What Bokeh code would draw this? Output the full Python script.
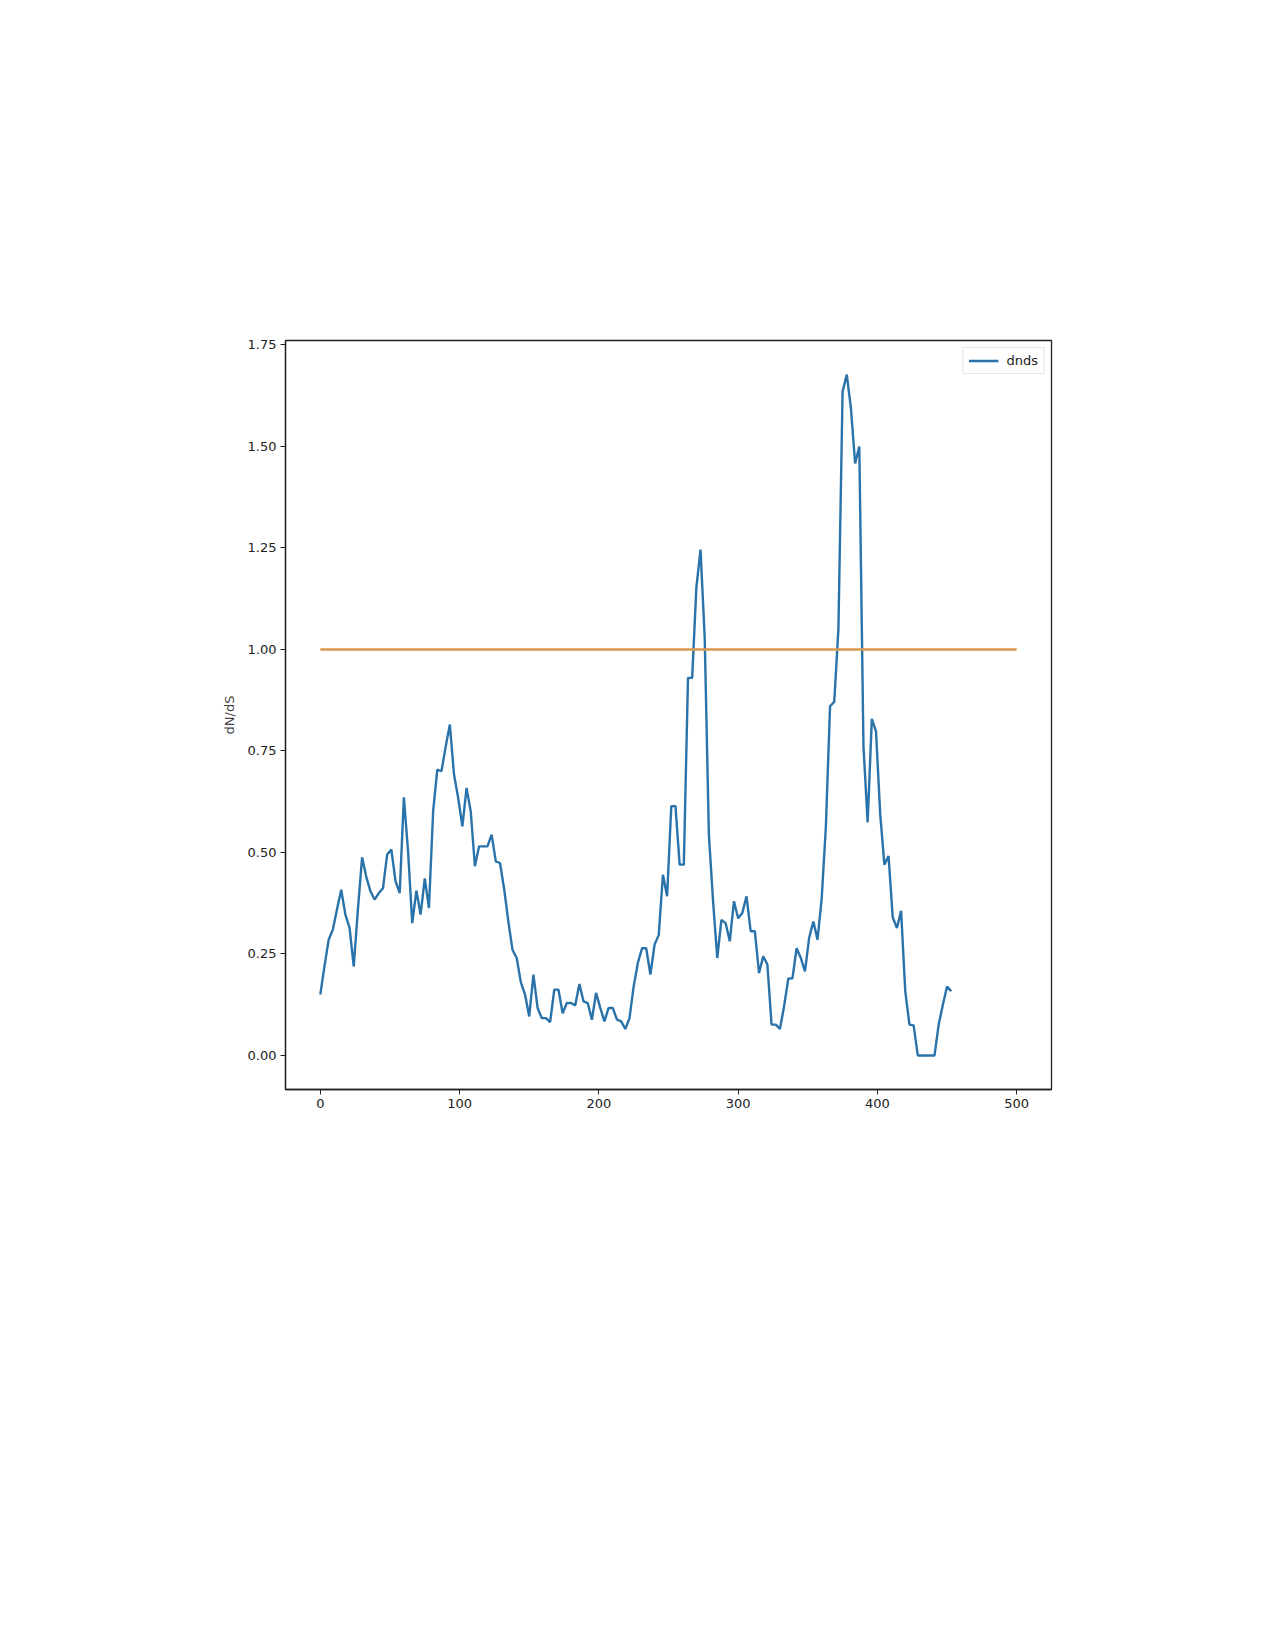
from bokeh.plotting import figure
from bokeh.models import Range1d, FixedTicker, NumeralTickFormatter, Legend, LegendItem
from bokeh.embed import file_html
from bokeh.resources import INLINE

# position along the sequence (step 3) and dN/dS values
positions = list(range(0, 454, 3))
dnds = [
    0.15, 0.22, 0.285, 0.31, 0.36, 0.408, 0.347, 0.314, 0.219, 0.36,
    0.488, 0.44, 0.404, 0.384, 0.40, 0.412, 0.495, 0.507, 0.429, 0.40,
    0.636, 0.503, 0.326, 0.406, 0.347, 0.436, 0.363, 0.601, 0.704, 0.70,
    0.76, 0.815, 0.692, 0.634, 0.564, 0.659, 0.601, 0.466, 0.515, 0.515,
    0.515, 0.544, 0.478, 0.474, 0.41, 0.33, 0.26, 0.24, 0.18, 0.15,
    0.096, 0.199, 0.117, 0.092, 0.092, 0.082, 0.162, 0.162, 0.104, 0.129,
    0.129, 0.123, 0.176, 0.133, 0.129, 0.088, 0.154, 0.117, 0.084, 0.117,
    0.117, 0.088, 0.084, 0.065, 0.092, 0.17, 0.228, 0.264, 0.264, 0.199,
    0.273, 0.297, 0.445, 0.392, 0.614, 0.614, 0.47, 0.47, 0.93, 0.93,
    1.152, 1.246, 1.029, 0.544, 0.38, 0.24, 0.334, 0.326, 0.281, 0.38,
    0.338, 0.351, 0.392, 0.306, 0.306, 0.203, 0.244, 0.224, 0.076, 0.076,
    0.065, 0.121, 0.189, 0.19, 0.264, 0.24, 0.207, 0.29, 0.33, 0.285,
    0.387, 0.564, 0.86, 0.871, 1.05, 1.635, 1.677, 1.594, 1.458, 1.5,
    0.76, 0.574, 0.829, 0.798, 0.595, 0.47, 0.491, 0.34, 0.314, 0.356,
    0.158, 0.076, 0.074, 0.0, 0.0, 0.0, 0.0, 0.0, 0.076, 0.125,
    0.17, 0.158,
]
ref_x = [0, 500]
ref_y = [1.0, 1.0]
x_ticks = [0, 100, 200, 300, 400, 500]
y_ticks = [0.0, 0.25, 0.5, 0.75, 1.0, 1.25, 1.5, 1.75]

FONT = "DejaVu Sans"

p = figure(
    frame_width=766, frame_height=749,
    min_border_left=285, min_border_top=340,
    min_border_right=208, min_border_bottom=545,
    x_range=Range1d(-25, 525), y_range=Range1d(-0.0839, 1.761),
    output_backend="svg", toolbar_location=None,
    background_fill_color="white", border_fill_color="white",
)
p.grid.visible = False
p.outline_line_color = "#222222"
p.outline_line_width = 1.3

for ax in (p.xaxis[0], p.yaxis[0]):
    ax.major_label_text_font = FONT
    ax.major_label_text_font_size = "13px"
    ax.major_label_text_color = "#222222"
    ax.axis_line_color = "#222222"
    ax.axis_line_width = 1.3
    ax.major_tick_line_color = "#222222"
    ax.major_tick_in = 0
    ax.major_tick_out = 5
    ax.minor_tick_line_color = None

p.xaxis[0].ticker = FixedTicker(ticks=x_ticks)
p.yaxis[0].ticker = FixedTicker(ticks=y_ticks)
p.yaxis[0].formatter = NumeralTickFormatter(format="0.00")
p.yaxis[0].axis_label = "dN/dS"
p.yaxis[0].axis_label_text_font = FONT
p.yaxis[0].axis_label_text_font_size = "13px"
p.yaxis[0].axis_label_text_font_style = "normal"
p.yaxis[0].axis_label_standoff = 8
p.xaxis[0].major_label_standoff = 4
p.yaxis[0].major_label_standoff = 4

blue = p.line(positions, dnds, line_color="#2a73aa", line_width=2.4)
p.line(ref_x, ref_y, line_color="#d9964f", line_width=2.4)

legend = Legend(items=[LegendItem(label="dnds", renderers=[blue])], location="top_right")
legend.margin = 7
legend.padding = 5
legend.spacing = 0
legend.glyph_width = 30
legend.glyph_height = 15
legend.label_height = 15
legend.label_standoff = 8
legend.label_text_font = FONT
legend.label_text_font_size = "13px"
legend.label_text_color = "#222222"
legend.border_line_color = "#cccccc"
legend.border_line_width = 1
legend.background_fill_color = "white"
p.add_layout(legend)

open("out.html", "w").write(file_html(p, INLINE))
